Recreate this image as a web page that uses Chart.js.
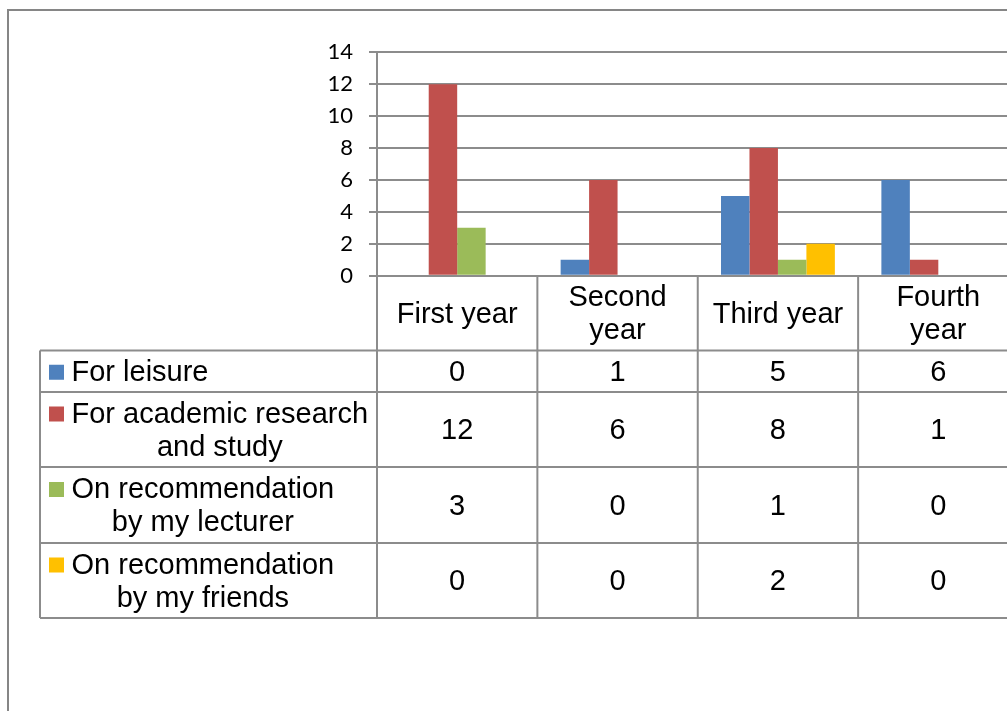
<!DOCTYPE html>
<html>
<head>
<meta charset="utf-8">
<script src="https://cdn.jsdelivr.net/npm/chart.js@4"></script>
<style>
    html, body { margin: 0; padding: 0; background: #fff; overflow: hidden; }
    #wrap { width: 1040px; height: 711px; }
</style>
</head>
<body>
<div id="wrap"><canvas id="usageChart" width="1040" height="711"></canvas></div>
<script>
// categories are split into the lines shown in the table header
const categories = [['First year'], ['Second', 'year'], ['Third year'], ['Fourth', 'year']];
const seriesNames = [
    ['For leisure'],
    ['For academic research', 'and study'],
    ['On recommendation', 'by my lecturer'],
    ['On recommendation', 'by my friends']
];
const leisure = [0, 1, 5, 6];
const academic = [12, 6, 8, 1];
const lecturer = [3, 0, 1, 0];
const friends = [0, 0, 2, 0];
const yMin = 0;
const yMax = 14;
const yStep = 2;

const seriesColors = ['#4F81BD', '#C0504D', '#9BBB59', '#FFC000'];
const lineColor = '#8c8c8c';
const tableFont = '29px "Liberation Sans", Arial, sans-serif';

// row edges of the data table below the plot
const headerBottom = 350.5;
const rowEdges = [350.5, 392, 467, 543, 618];
const tableLeft = 40;
const lineGap = 33;
const textShift = 1.5;

const seriesData = [leisure, academic, lecturer, friends];

const frameAndTable = {
    id: 'frameAndTable',
    beforeDraw(chart) {
        const ctx = chart.ctx;
        ctx.save();
        ctx.strokeStyle = '#868686';
        ctx.lineWidth = 2;
        ctx.strokeRect(8, 10, chart.width + 20, chart.height + 20);
        ctx.restore();
    },
    afterDraw(chart) {
        const ctx = chart.ctx;
        const x = chart.scales.x;
        const area = chart.chartArea;
        const colW = x.getPixelForValue(1) - x.getPixelForValue(0);
        const right = chart.width;

        ctx.save();
        ctx.strokeStyle = lineColor;
        ctx.lineWidth = 2;

        // column dividers
        for (let i = 0; i <= categories.length; i++) {
            const px = x.getPixelForValue(0) - colW / 2 + i * colW;
            ctx.beginPath();
            ctx.moveTo(px, area.bottom);
            ctx.lineTo(px, rowEdges[rowEdges.length - 1]);
            ctx.stroke();
        }
        // row dividers
        rowEdges.forEach(y => {
            ctx.beginPath();
            ctx.moveTo(tableLeft, y);
            ctx.lineTo(right, y);
            ctx.stroke();
        });
        ctx.beginPath();
        ctx.moveTo(tableLeft, rowEdges[0]);
        ctx.lineTo(tableLeft, rowEdges[rowEdges.length - 1]);
        ctx.stroke();

        ctx.fillStyle = '#000';
        ctx.font = tableFont;
        ctx.textAlign = 'center';
        ctx.textBaseline = 'middle';

        // header row
        const headerMid = (area.bottom + headerBottom) / 2 + textShift;
        categories.forEach((lines, i) => {
            const cx = x.getPixelForValue(i);
            lines.forEach((t, k) => {
                ctx.fillText(t, cx, headerMid + (k - (lines.length - 1) / 2) * lineGap);
            });
        });

        // series rows: key, name and values
        seriesNames.forEach((lines, r) => {
            const mid = (rowEdges[r] + rowEdges[r + 1]) / 2 + textShift;
            const firstY = mid - (lines.length - 1) / 2 * lineGap;
            const textLeft = 71.5;
            const textMid = textLeft + ctx.measureText(lines[0]).width / 2;

            ctx.fillStyle = seriesColors[r];
            ctx.fillRect(49, firstY - 8, 15, 15);

            ctx.fillStyle = '#000';
            lines.forEach((t, k) => {
                ctx.fillText(t, textMid, firstY + k * lineGap);
            });

            seriesData[r].forEach((v, i) => {
                ctx.fillText(String(v), x.getPixelForValue(i), mid);
            });
        });
        ctx.restore();
    }
};

new Chart(document.getElementById('usageChart'), {
    type: 'bar',
    data: {
        labels: categories.map(l => l.join(' ')),
        datasets: seriesNames.map((name, i) => ({
            label: name.join(' '),
            data: seriesData[i],
            backgroundColor: seriesColors[i],
            borderWidth: 0,
            categoryPercentage: 0.71,
            barPercentage: 1
        }))
    },
    options: {
        responsive: false,
        animation: false,
        devicePixelRatio: 1,
        layout: {
            padding: { left: 0, top: 52.3, right: 1040 - 1018.5, bottom: 711 - 275.7 }
        },
        plugins: {
            legend: { display: false },
            tooltip: { enabled: false }
        },
        scales: {
            x: {
                display: false
            },
            y: {
                min: yMin,
                max: yMax,
                afterFit(scale) { scale.width = 377; },
                ticks: {
                    stepSize: yStep,
                    color: '#000',
                    padding: 16,
                    font: { family: 'Lato', size: 22 }
                },
                grid: {
                    color: lineColor,
                    lineWidth: 2,
                    tickLength: 8
                },
                border: { display: true, color: lineColor, width: 2 }
            }
        }
    },
    plugins: [frameAndTable]
});
</script>
</body>
</html>
